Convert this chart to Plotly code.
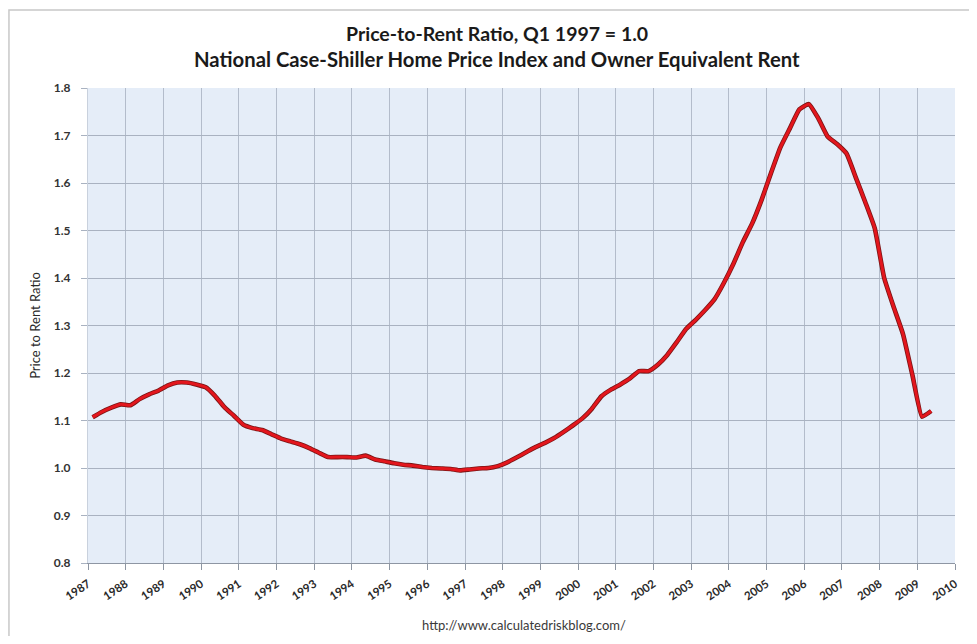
import plotly.graph_objects as go

years = list(range(1987, 2010))
quarter_mid = ["02-15", "05-15", "08-15", "11-15"]
ratio = [
    1.107, 1.118, 1.127, 1.134,   # 1987
    1.132, 1.145, 1.155, 1.163,   # 1988
    1.174, 1.180, 1.180, 1.176,   # 1989
    1.170, 1.152, 1.128, 1.110,   # 1990
    1.091, 1.084, 1.080, 1.071,   # 1991
    1.062, 1.056, 1.050, 1.042,   # 1992
    1.032, 1.023, 1.023, 1.023,   # 1993
    1.022, 1.026, 1.018, 1.014,   # 1994
    1.010, 1.007, 1.005, 1.002,   # 1995
    1.000, 0.999, 0.998, 0.995,   # 1996
    0.997, 0.999, 1.000, 1.004,   # 1997
    1.012, 1.022, 1.033, 1.044,   # 1998
    1.053, 1.063, 1.076, 1.090,   # 1999
    1.105, 1.125, 1.151, 1.165,   # 2000
    1.176, 1.188, 1.204, 1.204,   # 2001
    1.218, 1.238, 1.265, 1.293,   # 2002
    1.312, 1.332, 1.355, 1.390,   # 2003
    1.430, 1.475, 1.515, 1.565,   # 2004
    1.622, 1.675, 1.715, 1.755,   # 2005
    1.766, 1.737, 1.698, 1.682,   # 2006
    1.662, 1.612, 1.560, 1.505,   # 2007
    1.400, 1.340, 1.282, 1.195,   # 2008
    1.108, 1.120,                 # 2009
]
dates = [f"{y}-{q}" for y in years for q in quarter_mid][:len(ratio)]

tick_years = [str(y) for y in range(1987, 2011)]
tick_dates = [f"{y}-01-01" for y in tick_years]

title1 = "Price-to-Rent Ratio, Q1 1997 = 1.0"
title2 = "National Case-Shiller Home Price Index and Owner Equivalent Rent"
y_title = "Price to Rent Ratio"
source = "http://www.calculatedriskblog.com/"

# page has an 8px body margin, so work in figure coordinates = page - 8
OFF = 8
W, H = 977 - 2 * OFF, 644 - 2 * OFF
ML, MT = 88 - OFF, 88 - OFF
PR, PB = 960 - OFF, 563 - OFF
MR, MB = W - PR, H - PB
PW, PH = PR - ML, PB - MT

def px_x(p):
    return (p - OFF - ML) / PW

def px_y(p):
    return (PB - (p - OFF)) / PH

fig = go.Figure()
fig.add_trace(go.Scatter(
    x=dates, y=ratio, mode="lines",
    line=dict(color="#7a1414", width=4.6, shape="spline", smoothing=0.4),
    hoverinfo="skip", showlegend=False,
))
fig.add_trace(go.Scatter(
    x=dates, y=ratio, mode="lines",
    line=dict(color="#e3161d", width=3.0, shape="spline", smoothing=0.4),
    showlegend=False,
))

font_family = "Lato, 'Open Sans', sans-serif"

fig.update_layout(
    width=W, height=H,
    margin=dict(l=ML, r=MR, t=MT, b=MB),
    paper_bgcolor="white",
    plot_bgcolor="#e5edf8",
    font=dict(family=font_family, color="#3a3a3a"),
    xaxis=dict(
        type="date",
        range=[tick_dates[0], tick_dates[-1]],
        tickvals=tick_dates, ticktext=tick_years,
        tickangle=-34,
        tickfont=dict(size=11.5, color="#2a2a2a", family=font_family, weight="bold"),
        ticklabelstandoff=3,
        showgrid=True, gridcolor="#b3bccb", gridwidth=1,
        showline=True, linecolor="#8e96a3", linewidth=1,
        ticks="outside", ticklen=6, tickcolor="#8e96a3",
        zeroline=False,
    ),
    yaxis=dict(
        range=[0.8, 1.8], dtick=0.1, tick0=0.8, tickformat=".1f",
        tickfont=dict(size=12, color="#333333", family=font_family, weight="bold"),
        showgrid=True, gridcolor="#a9b2c1", gridwidth=1.2,
        showline=True, linecolor="#c9d1dd", linewidth=1,
        ticks="outside", ticklen=6, tickcolor="#a9b2c1",
        ticklabelstandoff=8,
        zeroline=False,
        title=dict(text=y_title, font=dict(size=13, color="#2a2a2a"), standoff=10),
    ),
    annotations=[
        dict(text=f"<b>{title1}</b>", x=px_x(499), y=px_y(33), xref="paper", yref="paper",
             showarrow=False, font=dict(size=19.5, color="#1a1a1a"), xanchor="center", yanchor="middle"),
        dict(text=f"<b>{title2}</b>", x=px_x(499), y=px_y(59), xref="paper", yref="paper",
             showarrow=False, font=dict(size=20.3, color="#1a1a1a"), xanchor="center", yanchor="middle"),
        dict(text=source, x=px_x(527), y=px_y(625), xref="paper", yref="paper",
             showarrow=False, font=dict(size=13, color="#3a3a3a"), xanchor="center", yanchor="middle"),
    ],
    shapes=[
        dict(type="rect", xref="paper", yref="paper",
             x0=px_x(8.5), x1=px_x(1000), y0=px_y(700), y1=px_y(10),
             line=dict(color="#c8c8c8", width=1.5), fillcolor="rgba(0,0,0,0)", layer="below"),
    ],
)

fig.write_html("out.html")
